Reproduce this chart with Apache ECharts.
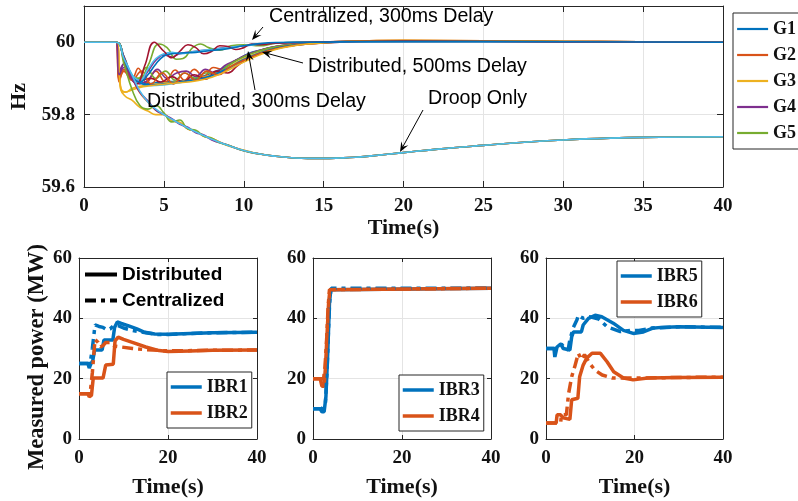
<!DOCTYPE html>
<html>
<head>
<meta charset="utf-8">
<script src="https://cdn.jsdelivr.net/npm/echarts@6/dist/echarts.min.js"></script>
<style>
html,body{margin:0;padding:0;background:#fff;}
#chart{width:798px;height:501px;}
</style>
</head>
<body>
<div id="chart"></div>
<script>
// ---------- top plot: frequency (Hz) ----------
// Distributed, 300ms delay (G1..G5)
const d300_G1 = [[0,60],[2,60],[2.5,59.955],[3,59.905],[3.5,59.89],[4,59.885],[4.5,59.888],[5,59.89],[6,59.893],[7,59.9],[8,59.915],[9,59.935],[9.5,59.95],[10,59.962],[10.5,59.972],[11,59.978],[12,59.988],[13,59.994],[14,59.998],[16,60.001],[20,60.003],[25,60.003],[30,60.001],[40,60]];
const d300_G2 = [[0,60],[2,60],[2.2,59.89],[2.5,59.92],[3,59.9],[3.4,59.928],[3.9,59.888],[4.5,59.92],[5.1,59.89],[5.7,59.923],[6.3,59.895],[6.9,59.925],[7.5,59.905],[8.1,59.93],[8.7,59.925],[9.3,59.945],[10,59.96],[10.5,59.97],[11,59.977],[12,59.988],[13,59.994],[14,59.998],[16,60.002],[20,60.004],[25,60.004],[30,60.002],[40,60]];
const d300_G3 = [[0,60],[2,60],[2.3,59.87],[2.6,59.862],[3,59.872],[3.5,59.878],[4,59.882],[5,59.887],[6,59.891],[7,59.898],[8,59.91],[9,59.93],[10,59.955],[11,59.972],[12,59.985],[13,59.992],[14,59.997],[16,60.002],[20,60.004],[25,60.004],[30,60.002],[40,60]];
const d300_G4 = [[0,60],[2,60],[2.2,59.905],[2.5,59.94],[2.9,59.9],[3.5,59.885],[4,59.895],[4.6,59.925],[5.2,59.9],[5.8,59.915],[6.4,59.92],[7,59.905],[7.6,59.925],[8.2,59.915],[8.8,59.935],[9.5,59.95],[10,59.962],[11,59.978],[12,59.988],[14,59.998],[16,60.002],[20,60.003],[30,60.001],[40,60]];
const d300_G5 = [[0,60],[2,60],[2.5,59.955],[3,59.905],[3.4,59.9],[3.9,59.93],[4.5,59.9],[5.1,59.92],[5.7,59.895],[6.3,59.915],[7,59.9],[7.6,59.915],[8.3,59.915],[9,59.935],[10,59.96],[11,59.976],[12,59.987],[14,59.997],[16,60.001],[20,60.003],[30,60.001],[40,60]];
// Distributed, 500ms delay
const d500_1 = [[0,60],[2,60],[2.5,59.96],[3,59.91],[3.5,59.89],[4,59.88],[5,59.882],[6,59.888],[7,59.895],[8,59.905],[9,59.925],[10,59.95],[11,59.968],[12,59.982],[13,59.99],[14,59.995],[16,60],[20,60.003],[30,60.002],[40,60]];
const d500_2 = [[0,60],[2,60],[2.5,59.95],[3,59.905],[3.5,59.895],[4.2,59.9],[4.8,59.89],[5.5,59.905],[6.2,59.89],[6.9,59.91],[7.6,59.898],[8.3,59.92],[9,59.915],[9.6,59.935],[10.3,59.955],[11,59.968],[12,59.982],[13,59.99],[14,59.995],[16,60],[20,60.004],[30,60.002],[40,60]];
const d500_3 = [[0,60],[2,60],[2.5,59.955],[3,59.905],[3.5,59.888],[4,59.882],[5,59.885],[6,59.89],[7,59.897],[8,59.908],[9,59.928],[10,59.952],[11,59.97],[12,59.983],[13,59.991],[14,59.996],[16,60.001],[20,60.003],[30,60.001],[40,60]];
const d500_4 = [[0,60],[2,60],[2.2,59.895],[2.5,59.92],[3,59.895],[3.6,59.92],[4.2,59.885],[4.9,59.915],[5.6,59.885],[6.3,59.915],[7,59.895],[7.7,59.92],[8.4,59.91],[9.1,59.93],[10,59.95],[11,59.969],[12,59.982],[13,59.99],[14,59.995],[16,60.001],[20,60.005],[25,60.004],[30,60.002],[40,60]];
const d500_5 = [[0,60],[2,60],[2.3,59.875],[2.6,59.862],[3,59.868],[3.5,59.875],[4,59.879],[5,59.884],[6,59.888],[7,59.893],[8,59.903],[9,59.922],[10,59.945],[11,59.965],[12,59.98],[13,59.989],[14,59.995],[16,60.001],[20,60.005],[25,60.004],[30,60.002],[40,60]];
// Centralized, 300ms delay
const c300_1 = [[0,60],[2,60],[2.2,59.92],[2.5,59.94],[3,59.9],[3.5,59.895],[4,59.92],[4.5,59.95],[5,59.965],[5.5,59.96],[6,59.968],[7,59.975],[8,59.98],[9,59.986],[10,59.99],[12,59.998],[14,60],[40,60]];
const c300_2 = [[0,60],[2,60],[2.5,59.955],[3,59.905],[3.5,59.9],[4,59.935],[4.7,59.995],[5.2,59.985],[5.8,59.953],[6.2,59.955],[6.8,59.985],[7.3,59.995],[7.8,59.985],[8.5,59.978],[9.2,59.99],[10,59.993],[11,59.99],[12,59.997],[14,60],[20,60.003],[40,60]];
const c300_3 = [[0,60],[2,60],[2.5,59.96],[3,59.91],[3.5,59.895],[4,59.925],[4.5,59.955],[5,59.968],[5.5,59.972],[6,59.968],[7,59.975],[8,59.98],[9,59.985],[10,59.99],[12,59.998],[14,60],[40,60]];
const c300_4 = [[0,60],[2,60],[2.5,59.96],[3,59.9],[3.3,59.885],[3.8,59.935],[4.4,60],[5,59.975],[5.5,59.957],[6,59.975],[6.5,59.993],[7,59.985],[7.5,59.968],[8,59.975],[8.5,59.99],[9,59.988],[9.5,59.98],[10,59.985],[10.5,59.995],[11,59.993],[12,59.997],[14,60],[20,60.003],[30,60.001],[40,60]];
const c300_5 = [[0,60],[2,60],[2.5,59.955],[3,59.905],[3.5,59.89],[4,59.91],[4.5,59.94],[5,59.962],[5.5,59.968],[6,59.97],[7,59.972],[8,59.977],[9,59.982],[10,59.99],[11,59.996],[12,59.999],[14,60],[20,60.002],[40,60]];
// Droop only
const droopTail = [[11,59.691],[12,59.685],[13,59.681],[14,59.679],[15,59.679],[16,59.68],[17,59.682],[18,59.686],[20,59.695],[22,59.704],[25,59.715],[28,59.725],[30,59.73],[33,59.735],[35,59.737],[40,59.739]];
const droop_1 = [[0,60],[2,60],[2.2,59.9],[2.5,59.925],[3,59.9],[3.5,59.86],[4,59.835],[4.5,59.812],[5,59.802],[5.5,59.785],[6,59.777],[6.5,59.761],[7,59.753],[7.5,59.741],[8,59.733],[9,59.715],[10,59.701]];
const droop_2 = [[0,60],[2,60],[2.3,59.87],[2.6,59.85],[3,59.84],[3.5,59.82],[4,59.81],[4.5,59.8],[5,59.8],[5.5,59.782],[6,59.779],[6.5,59.76],[7,59.755],[7.5,59.74],[8,59.735],[9,59.714],[10,59.702]];
const droop_3 = [[0,60],[2,60],[2.2,59.91],[2.5,59.93],[3,59.9],[3.5,59.862],[4,59.838],[4.5,59.812],[5,59.8],[5.5,59.789],[6,59.773],[6.5,59.765],[7,59.75],[7.5,59.744],[8,59.73],[9,59.716],[10,59.7]];
const droop_4 = [[0,60],[2,60],[2.5,59.94],[3,59.87],[3.5,59.825],[4,59.815],[4.5,59.825],[5,59.805],[5.5,59.78],[6,59.785],[6.5,59.76],[7,59.757],[7.5,59.74],[8,59.735],[8.5,59.722],[9,59.716],[10,59.7]];
const droop_5 = [[0,60],[2,60],[2.5,59.955],[3,59.91],[3.5,59.865],[4,59.835],[4.5,59.815],[5,59.8],[5.5,59.787],[6,59.775],[6.5,59.763],[7,59.752],[7.5,59.742],[8,59.732],[9,59.715],[10,59.701]];

// ---------- bottom plots: measured power (MW) ----------
const ibr1Dist = [[0,25],[2,25],[2.3,23.5],[2.7,25],[3.1,26],[3.5,29.5],[5.2,29.5],[5.6,32.8],[7.6,32.8],[8,37],[8.6,38.8],[9.5,38.3],[11,37.6],[13,36.5],[14.5,35.5],[17,34.8],[20,34.7],[25,35],[30,35.2],[40,35.4]];
const ibr1Cent = [[0,25],[2.5,25],[3,30],[3.6,37.8],[4.5,37.3],[5.4,37],[6.2,36.3],[7,36.5],[7.8,37.6],[8.8,37.6],[10,36.8],[12,36],[15,35.2],[18,34.6],[20,34.6],[25,35],[30,35.2],[40,35.4]];
const ibr2Dist = [[0,15],[2,15],[2.3,14],[2.8,14.5],[3.2,20.2],[5.4,20.2],[6,24.5],[7.7,24.8],[8.1,32.5],[8.8,33.8],[10,33],[12,32],[15,30.5],[18,29.3],[20,29],[25,29.2],[30,29.4],[40,29.5]];
const ibr2Cent = [[0,15],[2.5,15],[3,22],[3.6,33],[4.3,32],[4.8,30.5],[5.4,31],[6,32],[7,32],[8,30.8],[9.5,30.5],[12,30],[15,29.6],[20,29.2],[30,29.4],[40,29.5]];
const ibr3Dist = [[0,10],[1.6,10],[2,9],[2.5,9],[2.9,14],[3.3,28],[3.7,45],[4,49.5],[4.4,50],[40,50]];
const ibr3Cent = [[0,10],[2,10],[2.4,9.5],[2.8,12],[3.2,24],[3.5,37],[3.8,47],[4.1,50],[40,50]];
const ibr4Dist = [[0,20],[1.6,20],[2,17.5],[2.5,17.5],[2.8,24],[3.2,36],[3.5,45],[3.8,49.5],[4.1,50],[40,50]];
const ibr4Cent = [[0,20],[2,20],[2.3,19],[2.7,24],[3.1,34],[3.4,44],[3.7,49.5],[4,50],[40,50]];
const ibr5Dist = [[0,30],[1.8,30],[2,27.2],[2.3,27.2],[2.5,30.5],[3.3,31.5],[3.9,30],[4.2,29.5],[5.4,29.5],[5.8,33.8],[6.2,35.5],[8,35.5],[8.4,37.8],[9.6,40],[11.1,41],[12.6,40.5],[15.2,38.4],[17.5,36],[19.7,35],[22,35.5],[24,36.7],[26,37],[30,37.2],[40,37]];
const ibr5Cent = [[0,30],[2.5,30],[3,31],[3.5,31.5],[4.3,30],[5,29.5],[5.4,33],[6.2,37],[7,39.5],[7.3,41],[8.4,40],[10,40.5],[11.9,39.8],[13.8,37.2],[16.8,35.6],[19,36],[21,36],[24,36.8],[30,37.2],[40,37]];
const ibr6Dist = [[0,5.3],[2.3,5.3],[2.5,8],[3.3,8],[3.9,7],[5.4,6.5],[5.8,13],[7.2,13.5],[7.6,20.6],[8.4,24.5],[9.2,26.8],[10.4,28.4],[12.3,28.4],[13.8,25.6],[15.3,22.3],[17.5,20.2],[19.7,19.6],[23,20.2],[30,20.4],[40,20.5]];
const ibr6Cent = [[0,5.3],[3.3,5.3],[3.5,8],[4.6,8],[5.1,15],[5.8,20.6],[6.5,24],[7.3,28.4],[8,26.3],[8.7,28],[9.9,25],[11.1,22.8],[12.7,21.2],[15,20.2],[20,20.2],[30,20.4],[40,20.5]];

// tick settings
const topXTicks = 5, topYMin = 59.6, topYMax = 60.1, topYTicks = 0.2;
const botXTicks = 20, botYMin = 0, botYMax = 60, botYTicks = 20;

const C = {blue:'#0072BD', orange:'#D95319', yellow:'#EDB120', purple:'#7E2F8E', green:'#77AC30', cyan:'#4DBEEE', red:'#A2142F'};
const AX = '#262626';
const SERIF = 'Liberation Serif';
const SANS = 'Liberation Sans';

const grids = [
  {left: 78, top: 6, width: 645, height: 181},
  {left: 79, top: 258, width: 178, height: 181},
  {left: 313, top: 258, width: 178, height: 181},
  {left: 546, top: 258, width: 177, height: 181}
];

const xAxes = [], yAxes = [];
function addAxes(g, isTop) {
  const lab = {color: '#111', fontFamily: SERIF, fontWeight: 'bold', fontSize: 19, margin: isTop ? 9 : 7};
  const tick = {show: true, inside: true, length: isTop ? 6 : 4, lineStyle: {color: AX}};
  const line = {show: true, onZero: false, lineStyle: {color: AX, width: 1}};
  const split = {show: true, lineStyle: {color: '#e4e4e4', width: 1}};
  const nameStyle = {color: '#111', fontFamily: SERIF, fontWeight: 'bold', fontSize: 22};
  const xi = isTop ? topXTicks : botXTicks;
  xAxes.push({type: 'value', gridIndex: g, min: 0, max: 40, interval: xi,
    axisLine: line, axisTick: tick, axisLabel: Object.assign({}, lab, {margin: 10}), splitLine: split,
    name: 'Time(s)', nameLocation: 'middle', nameGap: isTop ? 25 : 37, nameTextStyle: nameStyle});
  xAxes.push({type: 'value', gridIndex: g, min: 0, max: 40, interval: xi, position: 'top',
    axisLine: line, axisTick: tick, axisLabel: {show: false}, splitLine: {show: false}});
  const yopt = isTop ? {min: topYMin, max: topYMax, interval: topYTicks} : {min: botYMin, max: botYMax, interval: botYTicks};
  const y = Object.assign({type: 'value', gridIndex: g, axisLine: line, axisTick: tick,
    axisLabel: Object.assign({showMaxLabel: !isTop}, lab), splitLine: split}, yopt);
  if (isTop) { y.name = 'Hz'; y.nameLocation = 'middle'; y.nameGap = 54; y.nameTextStyle = nameStyle; }
  yAxes.push(y);
  yAxes.push(Object.assign({type: 'value', gridIndex: g, position: 'right', axisLine: line, axisTick: tick,
    axisLabel: {show: false}, splitLine: {show: false}}, yopt));
}
addAxes(0, true); addAxes(1, false); addAxes(2, false); addAxes(3, false);

const series = [];
function addTop(name, color, data) {
  series.push({name, type: 'line', xAxisIndex: 0, yAxisIndex: 0, data, showSymbol: false, symbol: 'none',
    smooth: 0.45, lineStyle: {color, width: 1.6}, itemStyle: {color}, silent: true});
}
addTop('G1', C.blue, d300_G1); addTop('G2', C.orange, d300_G2); addTop('G3', C.yellow, d300_G3);
addTop('G4', C.purple, d300_G4); addTop('G5', C.green, d300_G5);
addTop('d500a', C.cyan, d500_1); addTop('d500b', C.red, d500_2); addTop('d500c', C.blue, d500_3);
addTop('d500d', C.orange, d500_4); addTop('d500e', C.yellow, d500_5);
addTop('c300a', C.purple, c300_1); addTop('c300b', C.green, c300_2); addTop('c300c', C.cyan, c300_3);
addTop('c300d', C.red, c300_4); addTop('c300e', C.blue, c300_5);
addTop('dra', C.orange, droop_1.concat(droopTail)); addTop('drb', C.yellow, droop_2.concat(droopTail));
addTop('drc', C.purple, droop_3.concat(droopTail)); addTop('drd', C.green, droop_4.concat(droopTail));
addTop('dre', C.cyan, droop_5.concat(droopTail));

const DASHDOT = [11, 5, 4, 5];
function addBot(g, name, color, data, dashed) {
  series.push({name, type: 'line', xAxisIndex: 2 * g, yAxisIndex: 2 * g, data, showSymbol: false, symbol: 'none',
    lineStyle: {color, width: 3.5, type: dashed ? DASHDOT : 'solid', cap: 'butt'}, itemStyle: {color}, silent: true});
}
addBot(1, 'IBR1', C.blue, ibr1Dist); addBot(1, 'IBR2', C.orange, ibr2Dist);
addBot(1, 'IBR1c', C.blue, ibr1Cent, true); addBot(1, 'IBR2c', C.orange, ibr2Cent, true);
addBot(1, 'Distributed', '#000', []); addBot(1, 'Centralized', '#000', [], true);
addBot(2, 'IBR3', C.blue, ibr3Dist); addBot(2, 'IBR4', C.orange, ibr4Dist);
addBot(2, 'IBR3c', C.blue, ibr3Cent, true); addBot(2, 'IBR4c', C.orange, ibr4Cent, true);
addBot(3, 'IBR5', C.blue, ibr5Dist); addBot(3, 'IBR6', C.orange, ibr6Dist);
addBot(3, 'IBR5c', C.blue, ibr5Cent, true); addBot(3, 'IBR6c', C.orange, ibr6Cent, true);

function boxLegend(data, left, topPx, pad, lw) {
  return {data, left, top: topPx, orient: 'vertical', padding: pad, itemWidth: 31, itemHeight: 14, itemGap: 8,
    backgroundColor: '#fff', borderColor: '#262626', borderWidth: 1, selectedMode: false,
    itemStyle: {opacity: 0}, lineStyle: {width: lw},
    textStyle: {fontFamily: SERIF, fontWeight: 'bold', fontSize: 18, color: '#111'}};
}
const legends = [
  boxLegend(['G1', 'G2', 'G3', 'G4', 'G5'], 733, 13, [7, 8, 7, 3], 2.2),
  boxLegend(['IBR1', 'IBR2'], 167, 372, [6, 4, 6, 2], 3.5),
  boxLegend(['IBR3', 'IBR4'], 399, 375, [6, 4, 6, 2], 3.5),
  boxLegend(['IBR5', 'IBR6'], 617, 261, [6, 4, 6, 2], 3.5),
  {data: ['Distributed', 'Centralized'], left: 83, top: 265, orient: 'vertical', padding: 0, itemWidth: 32,
    itemHeight: 14, itemGap: 7, selectedMode: false, itemStyle: {opacity: 0}, lineStyle: {width: 4},
    textStyle: {fontFamily: SANS, fontWeight: 'bold', fontSize: 19, color: '#000'}}
];

// annotations
function arrow(x1, y1, x2, y2) {
  const dx = x2 - x1, dy = y2 - y1, len = Math.sqrt(dx * dx + dy * dy);
  const ux = dx / len, uy = dy / len, nx = -uy, ny = ux, L = 10, W = 4;
  return [
    {type: 'line', shape: {x1, y1, x2: x2 - ux * L * 0.6, y2: y2 - uy * L * 0.6}, style: {stroke: '#000', lineWidth: 1}, z: 100},
    {type: 'polygon', shape: {points: [[x2, y2], [x2 - ux * L + nx * W, y2 - uy * L + ny * W],
      [x2 - ux * L * 0.6, y2 - uy * L * 0.6], [x2 - ux * L - nx * W, y2 - uy * L - ny * W]]},
      style: {fill: '#000'}, z: 100}
  ];
}
function label(text, x, y) {
  return {type: 'text', left: x, top: y - 11, z: 100,
    style: {text, fill: '#000', font: '19.6px "Liberation Sans"'}};
}
const graphic = [].concat(
  label('Centralized, 300ms Delay', 269, 18), arrow(263, 27, 252, 40),
  label('Distributed, 500ms Delay', 308, 68), arrow(303, 63, 262, 52),
  label('Distributed, 300ms Delay', 147, 103), arrow(255, 90, 248, 51),
  label('Droop Only', 428, 100), arrow(423, 110, 400, 152),
  [{type: 'text', x: 37, y: 357, rotation: Math.PI / 2, z: 100,
    style: {text: 'Measured power (MW)', fill: '#111', font: 'bold 22.5px "Liberation Serif"',
      align: 'center', verticalAlign: 'middle'}}]
);

const chart = echarts.init(document.getElementById('chart'), null, {renderer: 'canvas'});
chart.setOption({
  animation: false,
  backgroundColor: '#fff',
  grid: grids,
  xAxis: xAxes,
  yAxis: yAxes,
  legend: legends,
  series,
  graphic
});
</script>
</body>
</html>
